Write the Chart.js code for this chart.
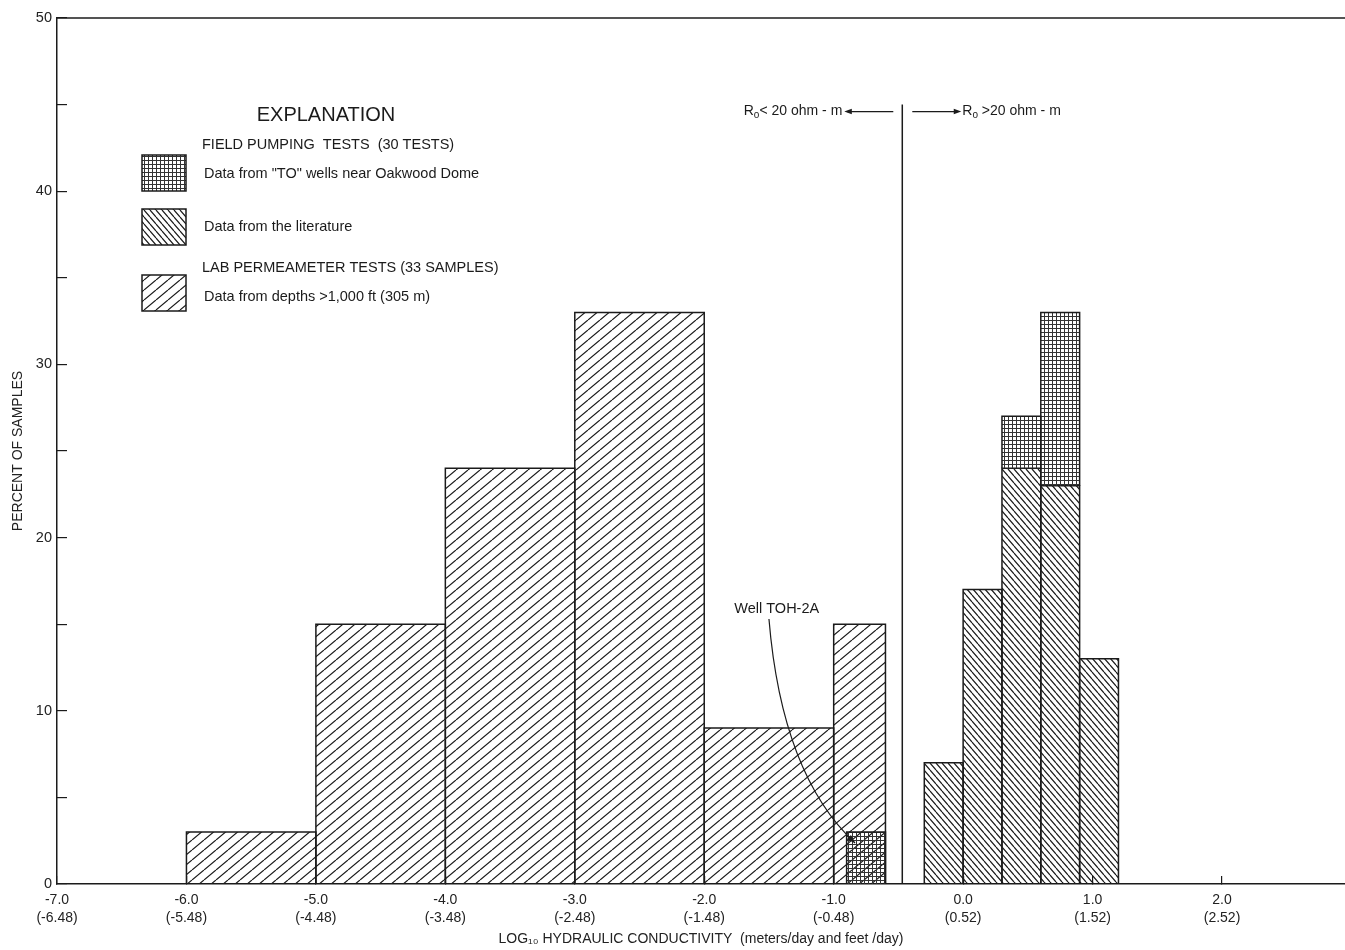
<!DOCTYPE html>
<html>
<head>
<meta charset="utf-8">
<script src="https://cdn.jsdelivr.net/npm/chart.js@4.4.0/dist/chart.umd.min.js"></script>
<style>
  html, body { margin: 0; padding: 0; background: #fff; }
  #wrap { width: 1345px; height: 950px; }
</style>
</head>
<body>
<div id="wrap"><canvas id="histo" width="1345" height="950"></canvas></div>
<script>
// Histogram of log10 hydraulic conductivity - hatched bars drawn as filled outlines

// lab permeameter tests (33 samples)
const labLeft = [-6.0, -5.0, -4.0, -3.0, -2.0, -1.0];
const labRight = [-5.0, -4.0, -3.0, -2.0, -1.0, -0.6];
const labPercent = [3, 15, 24, 33, 9, 15];

// field pumping tests, data from the literature
const litLeft = [-0.3, 0.0, 0.3, 0.6, 0.9];
const litRight = [0.0, 0.3, 0.6, 0.9, 1.2];
const litPercent = [7, 17, 24, 23, 13];

// field pumping tests, "TO" wells near Oakwood Dome (stacked on top)
const toLeft = [-0.9, 0.3, 0.6];
const toRight = [-0.6, 0.6, 0.9];
const toBase = [0, 24, 23];
const toTop = [3, 27, 33];

// resistivity divider
const dividerX = -0.47;
const dividerTop = 45;

// axis ticks
const xTickValues = [-7, -6, -5, -4, -3, -2, -1, 0, 1, 2];
const meterLabels = ['-7.0', '-6.0', '-5.0', '-4.0', '-3.0', '-2.0', '-1.0', '0.0', '1.0', '2.0'];
const feetLabels = ['(-6.48)', '(-5.48)', '(-4.48)', '(-3.48)', '(-2.48)', '(-1.48)', '(-0.48)', '(0.52)', '(1.52)', '(2.52)'];
const yLabelled = [0, 10, 20, 30, 40, 50];

const INK = '#1b1b1b';
const FONT = '"Liberation Sans", Arial, sans-serif';

// --- fill patterns ---
function makeHatch(w, h, forward, lw) {
  const c = document.createElement('canvas');
  c.width = w; c.height = h;
  const g = c.getContext('2d');
  g.strokeStyle = INK;
  g.lineWidth = lw;
  g.beginPath();
  for (const k of [-1, 0, 1]) {
    if (forward) { g.moveTo(k * w, h); g.lineTo(k * w + w, 0); }
    else { g.moveTo(k * w, 0); g.lineTo(k * w + w, h); }
  }
  g.stroke();
  return g.createPattern(c, 'repeat');
}

function makeGrid(step) {
  const c = document.createElement('canvas');
  c.width = step; c.height = step;
  const g = c.getContext('2d');
  g.fillStyle = '#333';
  g.fillRect(0, 0, step, 1);
  g.fillRect(0, 0, 1, step);
  return g.createPattern(c, 'repeat');
}

const labPattern = makeHatch(12, 10, true, 1.2);
const litPattern = makeHatch(6, 7, false, 1.2);
const toPattern = makeGrid(4);

function barDataset(label, x0, x1, base, top, pattern, order) {
  return {
    label,
    data: [{ x: x0, y: base }, { x: x0, y: top }, { x: x1, y: top }, { x: x1, y: base }],
    showLine: true,
    fill: { value: base },
    backgroundColor: pattern,
    borderColor: INK,
    borderWidth: 1.5,
    pointRadius: 0,
    tension: 0,
    order
  };
}

const datasets = [];
labPercent.forEach((v, i) => datasets.push(barDataset('Lab', labLeft[i], labRight[i], 0, v, labPattern, 1)));
litPercent.forEach((v, i) => datasets.push(barDataset('Literature', litLeft[i], litRight[i], 0, v, litPattern, 1)));
toTop.forEach((v, i) => datasets.push(barDataset('TO wells', toLeft[i], toRight[i], toBase[i], v, toPattern, 0)));
datasets.push({
  label: 'divider',
  data: [{ x: dividerX, y: 0 }, { x: dividerX, y: dividerTop }],
  showLine: true, fill: false, borderColor: INK, borderWidth: 1.5, pointRadius: 0, order: 2
});

function arrowHead(ctx, x, y, ang, len) {
  ctx.beginPath();
  ctx.moveTo(x, y);
  ctx.lineTo(x - len * Math.cos(ang - 0.35), y - len * Math.sin(ang - 0.35));
  ctx.lineTo(x - len * Math.cos(ang + 0.35), y - len * Math.sin(ang + 0.35));
  ctx.closePath();
  ctx.fill();
}

// "R" with subscript "o", then the rest of the label; returns width
function roWidth(ctx, rest) {
  ctx.font = '14px ' + FONT;
  let w = ctx.measureText('R').width + ctx.measureText(rest).width;
  ctx.font = '10px ' + FONT;
  return w + ctx.measureText('o').width;
}
function drawRo(ctx, x, y, rest) {
  ctx.textAlign = 'left';
  ctx.font = '14px ' + FONT;
  ctx.fillText('R', x, y);
  let w = ctx.measureText('R').width;
  ctx.font = '10px ' + FONT;
  ctx.fillText('o', x + w, y + 4);
  w += ctx.measureText('o').width;
  ctx.font = '14px ' + FONT;
  ctx.fillText(rest, x + w, y);
}

const extras = {
  id: 'extras',
  beforeDraw(chart) {
    const ctx = chart.ctx;
    ctx.save();
    ctx.fillStyle = '#fff';
    ctx.fillRect(0, 0, chart.width, chart.height);
    ctx.restore();
  },
  afterDraw(chart) {
    const { ctx, chartArea: a, scales } = chart;
    const xs = scales.x, ys = scales.y;
    ctx.save();
    ctx.strokeStyle = INK;
    ctx.fillStyle = INK;
    ctx.lineWidth = 1.5;

    // top frame line
    ctx.beginPath();
    ctx.moveTo(a.left, a.top);
    ctx.lineTo(a.right, a.top);
    ctx.stroke();

    // explanation block
    const bx = a.left + 85;
    ctx.textBaseline = 'middle';
    ctx.textAlign = 'center';
    ctx.font = '20px ' + FONT;
    ctx.fillText('EXPLANATION', 326, 115);
    ctx.textAlign = 'left';
    ctx.font = '14.5px ' + FONT;
    ctx.fillText('FIELD PUMPING  TESTS  (30 TESTS)', 202, 145);
    ctx.fillText('LAB PERMEAMETER TESTS (33 SAMPLES)', 202, 268);
    ctx.font = '14.5px ' + FONT;
    ctx.fillText('Data from "TO" wells near Oakwood Dome', 204, 174);
    ctx.fillText('Data from the literature', 204, 227);
    ctx.fillText('Data from depths >1,000 ft (305 m)', 204, 297);
    const boxes = [[155, toPattern], [209, litPattern], [275, labPattern]];
    boxes.forEach(([by, pat]) => {
      ctx.fillStyle = pat;
      ctx.fillRect(bx, by, 44, 36);
      ctx.strokeRect(bx, by, 44, 36);
    });
    ctx.fillStyle = INK;

    // resistivity labels either side of the divider
    const dx = xs.getPixelForValue(dividerX);
    const ry = ys.getPixelForValue(44.6);
    ctx.lineWidth = 1.2;
    drawRo(ctx, dx - 60 - roWidth(ctx, '< 20 ohm - m'), ry, '< 20 ohm - m');
    ctx.beginPath(); ctx.moveTo(dx - 9, ry); ctx.lineTo(dx - 55, ry); ctx.stroke();
    arrowHead(ctx, dx - 58, ry, Math.PI, 8);
    ctx.beginPath(); ctx.moveTo(dx + 10, ry); ctx.lineTo(dx + 54, ry); ctx.stroke();
    arrowHead(ctx, dx + 59, ry, 0, 8);
    drawRo(ctx, dx + 60, ry, ' >20 ohm - m');

    // Well TOH-2A leader
    ctx.textAlign = 'center';
    ctx.font = '14.5px ' + FONT;
    ctx.fillText('Well TOH-2A', xs.getPixelForValue(-1.44), ys.getPixelForValue(15.9));
    const p0 = [xs.getPixelForValue(-1.50), ys.getPixelForValue(15.3)];
    const pc = [xs.getPixelForValue(-1.40), ys.getPixelForValue(6.3)];
    const p2 = [xs.getPixelForValue(-0.835), ys.getPixelForValue(2.37)];
    ctx.beginPath();
    ctx.moveTo(p0[0], p0[1]);
    ctx.quadraticCurveTo(pc[0], pc[1], p2[0], p2[1]);
    ctx.stroke();
    arrowHead(ctx, p2[0], p2[1], Math.atan2(p2[1] - pc[1], p2[0] - pc[0]), 9);
    ctx.restore();
  }
};

new Chart(document.getElementById('histo'), {
  type: 'scatter',
  data: { datasets },
  plugins: [extras],
  options: {
    responsive: false,
    animation: false,
    devicePixelRatio: 1,
    layout: { padding: { top: 18, right: 0, bottom: 0, left: 0 } },
    plugins: { legend: { display: false }, tooltip: { enabled: false } },
    events: [],
    scales: {
      x: {
        type: 'linear',
        min: -7,
        max: 2.95,
        afterFit: (s) => { s.height = 66; s.paddingRight = 0; },
        border: { color: INK, width: 1.5 },
        grid: { drawOnChartArea: false, tickLength: -8, color: INK, lineWidth: 1.2 },
        ticks: {
          stepSize: 1,
          includeBounds: false,
          autoSkip: false,
          maxRotation: 0,
          padding: 15,
          color: '#222',
          font: { family: FONT, size: 14, lineHeight: 1.3 },
          callback: (v) => {
            const i = xTickValues.indexOf(Math.round(v));
            return i < 0 ? '' : [meterLabels[i], feetLabels[i]];
          }
        },
        title: {
          display: true,
          text: 'LOG\u2081\u2080 HYDRAULIC CONDUCTIVITY  (meters/day and feet /day)',
          color: '#222',
          font: { family: FONT, size: 14 },
          padding: { top: 0, bottom: 2 }
        }
      },
      y: {
        type: 'linear',
        min: 0,
        max: 50,
        afterFit: (s) => { s.width = 57; s.paddingTop = 0; s.paddingBottom = 0; },
        border: { color: INK, width: 1.5 },
        grid: { drawOnChartArea: false, tickLength: -10, color: INK, lineWidth: 1.2 },
        ticks: {
          stepSize: 5,
          padding: 15,
          color: '#222',
          font: { family: FONT, size: 14.5 },
          callback: (v) => (yLabelled.includes(v) ? String(v) : '')
        },
        title: {
          display: true,
          text: 'PERCENT OF SAMPLES',
          color: '#222',
          font: { family: FONT, size: 14 },
          padding: { top: 10, bottom: 0 }
        }
      }
    }
  }
});
</script>
</body>
</html>
